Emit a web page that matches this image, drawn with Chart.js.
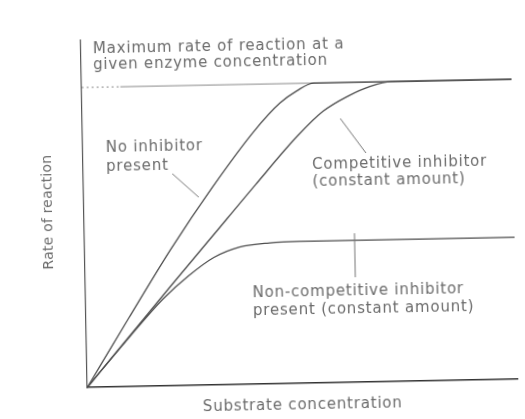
<!DOCTYPE html>
<html>
<head>
<meta charset="utf-8">
<script src="https://cdn.jsdelivr.net/npm/chart.js@4"></script>
<style>
  html, body { margin: 0; padding: 0; background: #fff; overflow: hidden; }
  /* the scanned figure is a little tilted */
  #chart { display: block; transform: rotate(-1.1deg); transform-origin: 262px 210px; }
</style>
</head>
<body>
<canvas id="chart" width="525" height="419"></canvas>
<script>
// substrate concentration (0-100) and rate (% of Vmax)
const noInhibitorX = [0, 10, 20, 30, 40, 46, 50, 54, 100];
const noInhibitorY = [0, 23, 45.5, 66, 84.5, 93.5, 97.5, 100, 100];

const competitiveX = [0, 10, 20, 30, 40, 50, 56, 62, 67, 72, 100];
const competitiveY = [0, 16.8, 33.5, 50, 66.5, 82.5, 90.5, 95.5, 98.5, 100, 100];

const nonCompetitiveX = [0, 10, 18, 24, 30, 36, 43, 50, 100];
const nonCompetitiveY = [0, 16.5, 29, 36.5, 42.5, 45.8, 47, 47.3, 47.3];

const maxRateX = [0, 9, 100];
const maxRateY = [100, 100, 100];

const xTitle = "Substrate concentration";
const yTitle = "Rate of reaction";
const maxLabel = ["Maximum rate of reaction at a", "given enzyme concentration"];
const noInhibitorLabel = ["No inhibitor", "present"];
const competitiveLabel = ["Competitive inhibitor", "(constant amount)"];
const nonCompetitiveLabel = ["Non-competitive inhibitor", "present (constant amount)"];

function toPoints(xs, ys) {
  return xs.map((x, i) => ({ x: x, y: ys[i] }));
}

const TEXT = "#6b6b6b";
const FONT = '15px "DejaVu Sans"';

// labels and leader lines drawn on top of the chart
const labelsPlugin = {
  id: "labels",
  afterDraw(chart) {
    const ctx = chart.ctx;
    ctx.save();
    ctx.font = FONT;
    ctx.letterSpacing = "0.8px";
    ctx.fillStyle = TEXT;
    ctx.textBaseline = "middle";
    ctx.textAlign = "left";

    const lines = (arr, x, y, gap) => arr.forEach((t, i) => ctx.fillText(t, x, y + i * gap));
    lines(maxLabel, 96, 46, 16);
    lines(noInhibitorLabel, 107, 145, 19);
    lines(competitiveLabel, 313, 166, 17);
    lines(nonCompetitiveLabel, 251, 293, 18);

    ctx.textAlign = "center";
    ctx.fillText(xTitle, 299, 406);
    ctx.font = '14px "DejaVu Sans"';
    ctx.letterSpacing = "0.2px";
    ctx.translate(48, 208);
    ctx.rotate(-Math.PI / 2);
    ctx.fillText(yTitle, 0, 0);
    ctx.restore();

    ctx.save();
    ctx.strokeStyle = "#777";
    ctx.lineWidth = 1;
    const leader = (x1, y1, x2, y2) => {
      ctx.beginPath();
      ctx.moveTo(x1, y1);
      ctx.lineTo(x2, y2);
      ctx.stroke();
    };
    leader(173, 172, 199, 196);
    leader(342, 120, 367, 155);
    leader(354, 235, 354, 279);
    ctx.restore();
  }
};

const lineStyle = {
  borderColor: "#4d4d4d",
  borderWidth: 1.3,
  pointRadius: 0,
  fill: false,
  cubicInterpolationMode: "monotone",
  clip: false
};

new Chart(document.getElementById("chart").getContext("2d"), {
  type: "line",
  data: {
    datasets: [
      Object.assign({ label: "No inhibitor present", data: toPoints(noInhibitorX, noInhibitorY) }, lineStyle),
      Object.assign({ label: "Competitive inhibitor", data: toPoints(competitiveX, competitiveY) }, lineStyle),
      Object.assign({ label: "Non-competitive inhibitor", data: toPoints(nonCompetitiveX, nonCompetitiveY) }, lineStyle),
      {
        label: "Maximum rate",
        data: toPoints(maxRateX, maxRateY),
        borderColor: "#8a8a8a",
        borderWidth: 1,
        pointRadius: 0,
        clip: false,
        segment: {
          borderDash: (c) => (c.p0DataIndex === 0 ? [2, 3] : undefined)
        }
      }
    ]
  },
  options: {
    responsive: false,
    animation: false,
    layout: { padding: { left: 84, right: 11, top: 37, bottom: 35 } },
    plugins: {
      legend: { display: false },
      tooltip: { enabled: false }
    },
    scales: {
      x: {
        type: "linear",
        min: 0,
        max: 100,
        grid: { display: false, drawTicks: false },
        ticks: { display: false },
        border: { color: "#333", width: 1.6 }
      },
      y: {
        min: 0,
        max: 115.7,
        grid: { display: false, drawTicks: false },
        ticks: { display: false },
        border: { color: "#555", width: 1.2 }
      }
    }
  },
  plugins: [labelsPlugin]
});
</script>
</body>
</html>
